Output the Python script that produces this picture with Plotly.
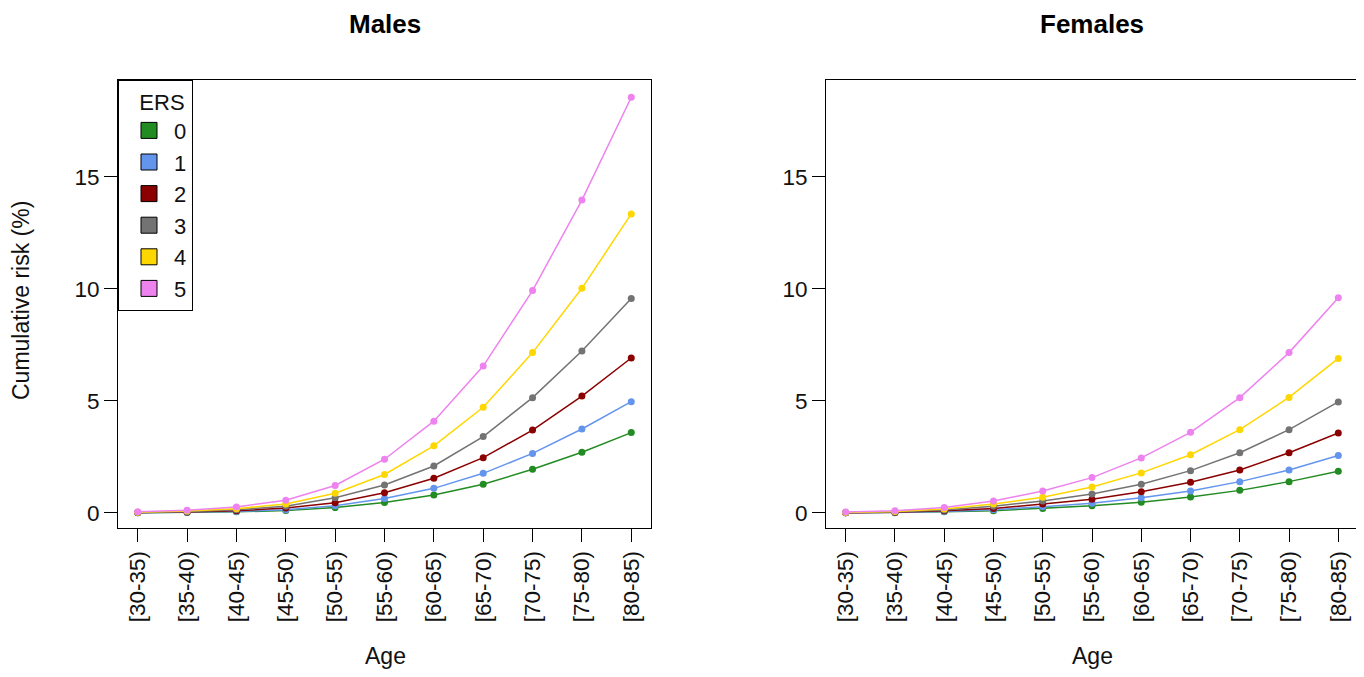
import plotly.graph_objects as go

age_groups = ["[30-35)", "[35-40)", "[40-45)", "[45-50)", "[50-55)", "[55-60)",
              "[60-65)", "[65-70)", "[70-75)", "[75-80)", "[80-85)"]
ers_levels = ["0", "1", "2", "3", "4", "5"]
ers_colors = ["#228B22", "#6495ED", "#8B0000", "#737373", "#FFD700", "#EE82EE"]

males_ers0 = [0.01, 0.02, 0.05, 0.11, 0.24, 0.47, 0.80, 1.28, 1.95, 2.71, 3.59]
males_ers1 = [0.013, 0.03, 0.07, 0.15, 0.32, 0.65, 1.10, 1.77, 2.66, 3.75, 4.97]
males_ers2 = [0.018, 0.04, 0.10, 0.22, 0.46, 0.90, 1.55, 2.47, 3.70, 5.22, 6.92]
males_ers3 = [0.025, 0.06, 0.14, 0.30, 0.68, 1.25, 2.10, 3.41, 5.15, 7.23, 9.58]
males_ers4 = [0.035, 0.09, 0.19, 0.40, 0.88, 1.72, 3.00, 4.72, 7.16, 10.03, 13.35]
males_ers5 = [0.05, 0.12, 0.27, 0.57, 1.23, 2.40, 4.10, 6.56, 9.93, 13.97, 18.56]

females_ers0 = [0.007, 0.015, 0.05, 0.10, 0.20, 0.32, 0.48, 0.71, 1.01, 1.40, 1.86]
females_ers1 = [0.01, 0.02, 0.07, 0.15, 0.28, 0.43, 0.68, 0.98, 1.40, 1.92, 2.57]
females_ers2 = [0.013, 0.03, 0.10, 0.20, 0.40, 0.61, 0.95, 1.37, 1.92, 2.69, 3.57]
females_ers3 = [0.018, 0.045, 0.13, 0.30, 0.54, 0.85, 1.28, 1.89, 2.69, 3.72, 4.96]
females_ers4 = [0.025, 0.07, 0.18, 0.40, 0.70, 1.16, 1.79, 2.60, 3.72, 5.16, 6.90]
females_ers5 = [0.04, 0.10, 0.25, 0.54, 0.98, 1.58, 2.46, 3.60, 5.15, 7.16, 9.61]

males = [males_ers0, males_ers1, males_ers2, males_ers3, males_ers4, males_ers5]
females = [females_ers0, females_ers1, females_ers2, females_ers3, females_ers4, females_ers5]

# page has an 8px body margin: map screen pixels to paper coords
OFF = 8
FW, FH = 1364 - OFF, 677 - OFF


def px(x):
    return (x - OFF) / FW


def py(y):
    return 1 - (y - OFF) / FH


FONT = "Liberation Sans, Arial, sans-serif"
TXT = "#111111"

fig = go.Figure()
xs = list(range(len(age_groups)))
for vals, col in zip(males, ers_colors):
    fig.add_trace(go.Scatter(x=xs, y=vals, mode="lines+markers", xaxis="x", yaxis="y",
                             line=dict(color=col, width=1.5), marker=dict(color=col, size=7),
                             showlegend=False))
for vals, col in zip(females, ers_colors):
    fig.add_trace(go.Scatter(x=xs, y=vals, mode="lines+markers", xaxis="x2", yaxis="y2",
                             line=dict(color=col, width=1.5), marker=dict(color=col, size=7),
                             showlegend=False))
for lvl, col in zip(ers_levels, ers_colors):
    fig.add_trace(go.Scatter(x=[None], y=[None], mode="markers", xaxis="x", yaxis="y",
                             name=lvl, marker=dict(symbol="square", color=col, size=16,
                                                   line=dict(color="black", width=1)),
                             showlegend=True))

ydom = [py(528), py(80)]
xaxis_common = dict(
    range=[-0.4, 10.4], tickmode="array", tickvals=xs, ticktext=age_groups,
    tickangle=-90, ticks="outside", ticklen=13, tickcolor="black", tickwidth=1,
    showline=True, linecolor="black", linewidth=1, mirror=True, showgrid=False,
    zeroline=False, tickfont=dict(size=22.5, color=TXT, family=FONT), automargin=False,
)
yaxis_common = dict(
    range=[-0.67, 19.33], tickmode="array", tickvals=[0, 5, 10, 15],
    ticks="outside", ticklen=13, tickcolor="black", tickwidth=1,
    showline=True, linecolor="black", linewidth=1, mirror=True, showgrid=False,
    zeroline=False, tickfont=dict(size=22.5, color=TXT, family=FONT), automargin=False,
)

fig.update_layout(
    width=FW, height=FH,
    margin=dict(l=0, r=0, t=0, b=0),
    paper_bgcolor="white", plot_bgcolor="white",
    font=dict(family=FONT, color=TXT),
    xaxis=dict(domain=[px(118), px(651)], anchor="y", **xaxis_common),
    yaxis=dict(domain=ydom, anchor="x", **yaxis_common),
    xaxis2=dict(domain=[px(826), px(1358)], anchor="y2", **xaxis_common),
    yaxis2=dict(domain=ydom, anchor="x2", **yaxis_common),
    legend=dict(x=px(118), y=ydom[1], xanchor="left", yanchor="top",
                bordercolor="black", borderwidth=1, bgcolor="white",
                title=dict(text="\u00a0\u00a0\u00a0ERS", font=dict(size=22, family=FONT)),
                font=dict(size=22, family=FONT), indentation=5, itemwidth=40),
    annotations=[
        dict(text="<b>Males</b>", x=px(385), y=py(24), xref="paper", yref="paper",
             xanchor="center", yanchor="middle",
             showarrow=False, font=dict(size=26, family=FONT, color="black")),
        dict(text="<b>Females</b>", x=px(1092), y=py(24), xref="paper", yref="paper",
             xanchor="center", yanchor="middle",
             showarrow=False, font=dict(size=26, family=FONT, color="black")),
        dict(text="Age", x=px(385), y=py(656), xref="paper", yref="paper",
             xanchor="center", yanchor="middle",
             showarrow=False, font=dict(size=23, family=FONT, color=TXT)),
        dict(text="Age", x=px(1092), y=py(656), xref="paper", yref="paper",
             xanchor="center", yanchor="middle",
             showarrow=False, font=dict(size=23, family=FONT, color=TXT)),
        dict(text="Cumulative risk (%)", x=px(21), y=py(301), xref="paper", yref="paper",
             xanchor="center", yanchor="middle",
             showarrow=False, textangle=-90, font=dict(size=23, family=FONT, color=TXT)),
    ],
)

fig.write_html("out.html")
